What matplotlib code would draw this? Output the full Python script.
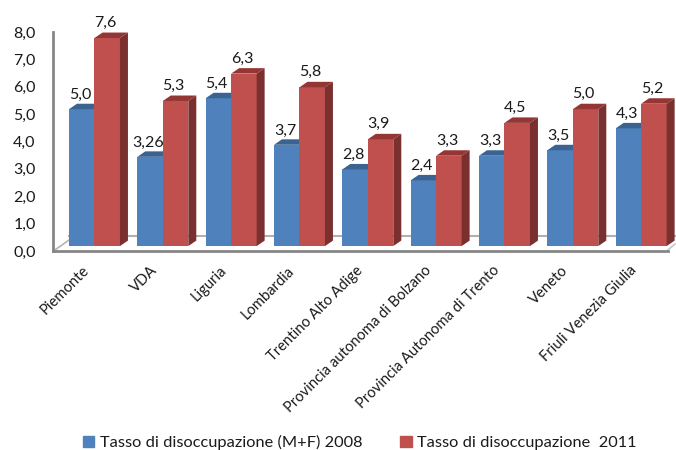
import matplotlib
matplotlib.use("Agg")
import matplotlib.pyplot as plt

categories = ["Piemonte", "VDA", "Liguria", "Lombardia", "Trentino Alto Adige",
              "Provincia autonoma di Bolzano", "Provincia Autonoma di Trento",
              "Veneto", "Friuli Venezia Giulia"]
values_2008 = [5.0, 3.26, 5.4, 3.7, 2.8, 2.4, 3.3, 3.5, 4.3]
values_2011 = [7.6, 5.3, 6.3, 5.8, 3.9, 3.3, 4.5, 5.0, 5.2]
labels_2008 = ["5,0", "3,26", "5,4", "3,7", "2,8", "2,4", "3,3", "3,5", "4,3"]
labels_2011 = ["7,6", "5,3", "6,3", "5,8", "3,9", "3,3", "4,5", "5,0", "5,2"]
y_ticks = [0, 1, 2, 3, 4, 5, 6, 7, 8]
y_tick_labels = ["0,0", "1,0", "2,0", "3,0", "4,0", "5,0", "6,0", "7,0", "8,0"]

plt.rcParams["font.family"] = ["Lato", "DejaVu Sans"]
text_color = "#1a1a1a"
axis_gray = "#868686"
blue, blue_top = "#4F81BD", "#3A6391"
red, red_top, red_side = "#C0504D", "#943634", "#7B3030"

# bars float a bit above the front axis, like the 3D chart
base = 0.18
width = 0.373
depth_x = 0.117
depth_y = 0.2

fig = plt.figure(figsize=(6.76, 4.5), dpi=100)
ax = fig.add_axes([53 / 676, (450 - 251) / 450, 615 / 676, 219 / 450])
ax.set_xlim(0, 9)
ax.set_ylim(0, 8)

# floor of the 3D box
ax.plot([0.23, 9.1], [0.53, 0.53], color="#b0b0b0", lw=1.5, zorder=1, clip_on=False)
ax.plot([0.03, 0.234], [0.04, 0.4], color="#b5b5b5", lw=1.2, zorder=1)
ax.plot([9, 9.1], [0.04, 0.25], color="#c8c8c8", lw=1.2, zorder=1, clip_on=False)


def draw_bar(x, value, color, top_color, side_color=None):
    top = base + value
    ax.bar(x, value, width, bottom=base, align="edge", color=color, zorder=3)
    ax.fill([x, x + depth_x, x + width + depth_x, x + width],
            [top, top + depth_y, top + depth_y, top], color=top_color, lw=0, zorder=3, clip_on=False)
    if side_color:
        ax.fill([x + width, x + width + depth_x, x + width + depth_x, x + width],
                [base, base + depth_y, top + depth_y, top], color=side_color, lw=0, zorder=3, clip_on=False)


for i in range(len(categories)):
    x = i + 0.234
    draw_bar(x, values_2008[i], blue, blue_top)
    draw_bar(x + width, values_2011[i], red, red_top, red_side)
    ax.text(x + 0.16, base + values_2008[i] + 0.27, labels_2008[i], ha="center", va="bottom",
            fontsize=11.5, color=text_color, zorder=4)
    ax.text(x + width + 0.16, base + values_2011[i] + 0.29, labels_2011[i], ha="center", va="bottom",
            fontsize=11.5, color=text_color, zorder=4)

for side in ["top", "right"]:
    ax.spines[side].set_visible(False)
for side in ["left", "bottom"]:
    ax.spines[side].set_color(axis_gray)
    ax.spines[side].set_linewidth(2)

ax.set_yticks(y_ticks)
ax.set_yticklabels(y_tick_labels, fontsize=11.5, color=text_color)
ax.tick_params(axis="y", length=0, pad=12.5)
ax.set_xticks([i + 0.43 for i in range(len(categories))])
ax.set_xticklabels(categories, rotation=45, ha="right", va="top", rotation_mode="anchor",
                   fontsize=10.6, color=text_color)
ax.tick_params(axis="x", length=0, pad=9)

handles = [plt.Rectangle((0, 0), 1, 1, color=blue), plt.Rectangle((0, 0), 1, 1, color=red)]
fig.legend(handles, ["Tasso di disoccupazione (M+F) 2008", "Tasso di disoccupazione  2011"],
           loc="lower left", bbox_to_anchor=(68 / 676, -0.033), ncols=2, frameon=False,
           fontsize=11.8, handlelength=0.7, handleheight=0.7, handletextpad=0.35, columnspacing=2.3,
           labelcolor=text_color)

fig.savefig("out.png", dpi=100)
